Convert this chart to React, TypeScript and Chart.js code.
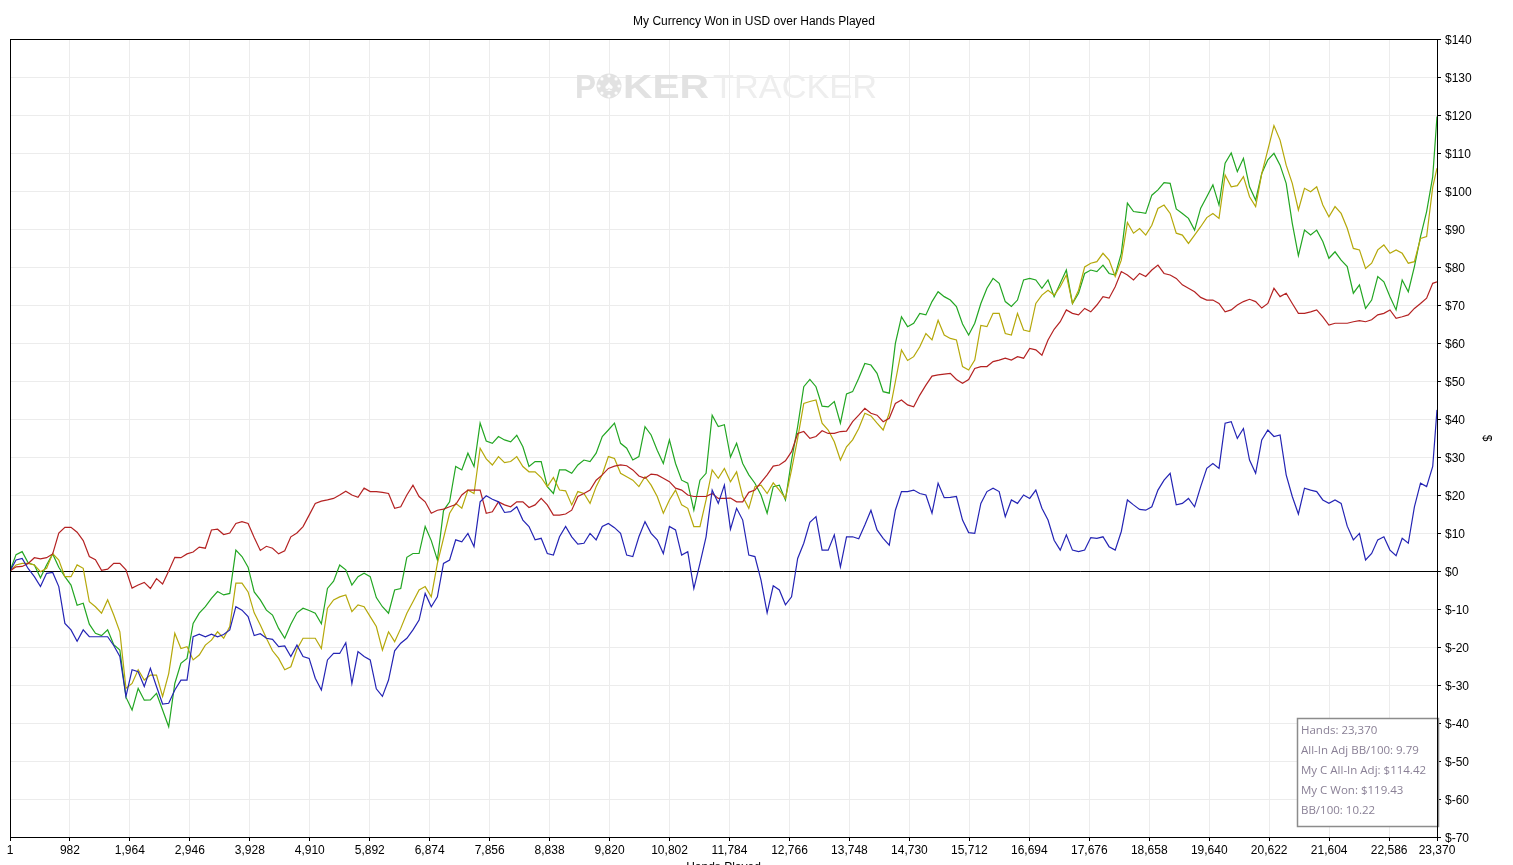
import { useEffect, useRef } from 'react';
import { Chart, registerables } from 'chart.js';

Chart.register(...registerables);

const TITLE = 'My Currency Won in USD over Hands Played';
const X_TITLE = 'Hands Played';
const Y_TITLE = '$';

const HANDS = [
  1, 100, 200, 300, 400, 500, 600, 700, 800, 900,
  1000, 1100, 1200, 1300, 1400, 1500, 1600, 1700, 1800, 1900,
  2000, 2100, 2200, 2300, 2400, 2500, 2600, 2700, 2800, 2900,
  3000, 3100, 3200, 3300, 3400, 3500, 3600, 3700, 3800, 3900,
  4000, 4100, 4200, 4300, 4400, 4500, 4600, 4700, 4800, 4900,
  5000, 5100, 5200, 5300, 5400, 5500, 5600, 5700, 5800, 5900,
  6000, 6100, 6200, 6300, 6400, 6500, 6600, 6700, 6800, 6900,
  7000, 7100, 7200, 7300, 7400, 7500, 7600, 7700, 7800, 7900,
  8000, 8100, 8200, 8300, 8400, 8500, 8600, 8700, 8800, 8900,
  9000, 9100, 9200, 9300, 9400, 9500, 9600, 9700, 9800, 9900,
  10000, 10100, 10200, 10300, 10400, 10500, 10600, 10700, 10800, 10900,
  11000, 11100, 11200, 11300, 11400, 11500, 11600, 11700, 11800, 11900,
  12000, 12100, 12200, 12300, 12400, 12500, 12600, 12700, 12800, 12900,
  13000, 13100, 13200, 13300, 13400, 13500, 13600, 13700, 13800, 13900,
  14000, 14100, 14200, 14300, 14400, 14500, 14600, 14700, 14800, 14900,
  15000, 15100, 15200, 15300, 15400, 15500, 15600, 15700, 15800, 15900,
  16000, 16100, 16200, 16300, 16400, 16500, 16600, 16700, 16800, 16900,
  17000, 17100, 17200, 17300, 17400, 17500, 17600, 17700, 17800, 17900,
  18000, 18100, 18200, 18300, 18400, 18500, 18600, 18700, 18800, 18900,
  19000, 19100, 19200, 19300, 19400, 19500, 19600, 19700, 19800, 19900,
  20000, 20100, 20200, 20300, 20400, 20500, 20600, 20700, 20800, 20900,
  21000, 21100, 21200, 21300, 21400, 21500, 21600, 21700, 21800, 21900,
  22000, 22100, 22200, 22300, 22400, 22500, 22600, 22700, 22800, 22900,
  23000, 23100, 23200, 23300, 23370,
];

// Net won (green)
const WON = [
  0, 4.3, 5.1, 2.1, 1.6, -1.8, 1.6, 4.5, 1, -1.5,
  -3.7, -9, -8.5, -14, -16.4, -17, -15.5, -19.4, -20.8, -33.2,
  -36.6, -30.9, -34, -33.9, -32.2, -36.6, -41, -29.6, -24.3, -23,
  -13.8, -11.1, -9.4, -7.2, -5.4, -6.3, -5.9, 5.5, 3.8, 1,
  -5.5, -7.6, -10.3, -11.6, -15.1, -17.7, -14, -11, -9.8, -10.4,
  -11.1, -13.9, -4.6, -2.7, 1.6, 0.3, -3.7, -1.5, -0.6, -1.5,
  -7, -9.4, -11.1, -5, -4.6, 3.6, 4.6, 4.6, 11.7, 8,
  2.9, 15.9, 18.2, 27.5, 26.6, 31, 27.5, 38.9, 34.2, 33.6,
  35.4, 34.5, 34, 35.7, 32.7, 27.5, 28.8, 28.8, 22.2, 20.4,
  26.6, 26.6, 25.7, 27.9, 29.2, 28.8, 31, 35.4, 37.1, 38.9,
  33.6, 32.3, 29.2, 30.1, 38, 35.8, 31.8, 28.3, 34.5, 28.3,
  23.9, 23.1, 16, 23.9, 25.7, 41, 38, 38.5, 30, 33.6,
  28.3, 25.3, 23.1, 20, 15.2, 22.2, 22.6, 18.7, 29.2, 38,
  48.5, 50.4, 48.5, 43.4, 43.2, 44.6, 38.9, 46.6, 47.2, 50.7,
  54.6, 54.2, 52, 47.2, 46.8, 59.9, 66.9, 64.3, 65.2, 67.8,
  67.4, 70.9, 73.5, 72.2, 71.3, 69.6, 65, 62.1, 65.2, 70.4,
  74.4, 77, 75.7, 70.9, 69.6, 71.3, 76.6, 77, 76.6, 74.4,
  76.6, 72.2, 75.7, 79.2, 70.4, 73.1, 78.3, 79.2, 78.8, 80.5,
  78.3, 77.9, 83.6, 96.8, 94.6, 94.4, 94.1, 98.9, 100.3, 102.2,
  102, 95.3, 94.1, 92.8, 89.7, 95.5, 98.5, 101.6, 96.3, 107.3,
  110, 105.1, 108.6, 101.1, 97.6, 104.6, 108.2, 109.9, 106.8, 102,
  91.5, 83, 89.7, 88.4, 89.7, 86.7, 82.3, 84, 81.8, 80.1,
  73.1, 75.3, 69.1, 71.3, 77.5, 76.1, 72.2, 68.7, 76.6, 73.5,
  80.1, 88, 94.6, 103.8, 119.6,
];

// All-in adjusted (olive)
const ALLIN_ADJ = [
  0, 1.6, 2, 2, 1.6, -0.2, 0.7, 4.6, 2.9, -1.5,
  -1.5, 1.6, 0.7, -8.1, -9.4, -11.1, -7.6, -11.6, -16, -30.9,
  -29.6, -26, -28.7, -27.4, -27.4, -33, -27, -16.4, -20.4, -19.9,
  -23.4, -22.1, -19.5, -18.2, -16, -17.7, -14.6, -3.2, -3.2, -5.5,
  -11, -14.2, -17.7, -21, -23, -26, -25.2, -20.6, -17.7, -17.7,
  -17.7, -20.4, -9.8, -7.6, -6.8, -6.3, -10.7, -8.9, -9.4, -12,
  -14.6, -20.8, -16, -18.6, -15.1, -11.1, -8.1, -5, -4.1, -6.8,
  2, 8.6, 15.2, 17.8, 16.5, 21.3, 20.4, 32.3, 29.5, 27.9,
  30.1, 28.5, 28.8, 30.1, 27.5, 26.1, 26.1, 24.6, 22.2, 24.6,
  21.3, 21.1, 17.4, 20.9, 20.4, 17.8, 22.2, 25.4, 30.1, 29.6,
  25.7, 24.8, 23.9, 22.2, 24.8, 22.6, 19.6, 15.2, 18.7, 21.3,
  17.4, 16.5, 11.7, 11.7, 18.7, 26.6, 24.4, 27, 23.5, 26.1,
  19.6, 16.5, 22.2, 22.6, 20.4, 23.2, 21.3, 19.1, 26.6, 34.9,
  44.1, 44.6, 45, 38.9, 37.1, 34, 29.2, 32.7, 34.5, 37.5,
  41.5, 40.8, 38.9, 37.1, 41.5, 49.8, 58.2, 55.4, 56.4, 59,
  62.5, 60.8, 66, 62.1, 61.2, 60.8, 53.8, 52.9, 55.5, 64.6,
  64.3, 67.8, 67.8, 62.5, 62.1, 67.8, 63.4, 63, 70.4, 72.6,
  73.9, 72.6, 74.8, 77.9, 70.4, 73.9, 80, 81, 81.4, 83.6,
  81.8, 77.5, 81.8, 91.7, 88.9, 90.1, 88.4, 91, 95.4, 96.3,
  94.1, 88.9, 88.4, 86.2, 88.4, 90.6, 93, 94.1, 92.8, 104.2,
  101.1, 101.4, 103.8, 98.5, 95.9, 104.6, 110.8, 117.2, 113.4, 106.8,
  102, 95, 100.7, 99.8, 101.1, 96.3, 93.2, 95.9, 94.1, 90.2,
  84.9, 84.5, 79.6, 81, 84.5, 85.8, 83.6, 84.5, 83.6, 81,
  81.4, 87.5, 88, 101, 106,
];

// Non-showdown winnings (red)
const NON_SHOWDOWN = [
  0, 1.1, 1.2, 2, 3.5, 3.2, 3.5, 4.5, 10, 11.5,
  11.5, 10.2, 8, 3.8, 3, 0.2, 0.5, 2, 2, 0.3,
  -4.5, -3.7, -3, -4.6, -2, -3.4, 0, 3.6, 3.5, 4.5,
  5, 6.3, 6, 10.8, 11, 9.6, 10, 12.5, 13, 12.5,
  8.8, 5.4, 6.5, 6, 4.5, 5.3, 9, 10, 11.7, 14.7,
  17.8, 18.4, 18.7, 19.1, 20, 21, 20, 19.4, 21.8, 20.9,
  20.9, 20.7, 20.4, 16.5, 16.9, 20, 22.6, 19.6, 18.2, 15.2,
  16, 16.3, 16.9, 17.5, 20, 21.3, 21.3, 21.3, 15.2, 15.6,
  18.2, 17.4, 16.9, 18.2, 18.2, 16.7, 17.4, 19.1, 17.4, 14.7,
  14.7, 15, 16, 19.6, 20.4, 21.3, 23.9, 25.3, 27, 27.6,
  27.9, 27.7, 26.6, 25, 24.4, 25.5, 25.3, 24.4, 23.5, 21.8,
  21.3, 20, 19.6, 19.6, 19.6, 20.4, 19.1, 19.1, 19.2, 18.2,
  18.2, 20.7, 21.3, 23.3, 25.3, 27.6, 27.9, 29, 31.4, 36.2,
  36.7, 34.9, 35.4, 36.9, 36.2, 36.2, 36.7, 36.8, 39.3, 41,
  42.8, 41.5, 41, 39.3, 40.2, 44.1, 45, 43.7, 43.2, 46.3,
  48.9, 51.3, 51.6, 51.8, 52, 50.4, 49.4, 50.4, 53.3, 53.8,
  53.8, 55.1, 55.5, 56, 55.5, 56.4, 56, 58.6, 58.2, 56.8,
  60.8, 63.6, 65.6, 68.7, 67.8, 67.4, 69.1, 68.2, 70, 72.2,
  71.8, 74.8, 78.8, 77.9, 76.6, 78.3, 77.5, 79.2, 80.5, 78.3,
  77.9, 77, 75.3, 74.4, 73.5, 72, 71.3, 71.3, 70.4, 68.2,
  68.7, 70, 70.9, 71.5, 70.9, 69.2, 70.4, 74.4, 72.2, 73.1,
  70.4, 67.8, 67.8, 68.2, 68.7, 66.9, 64.7, 65.2, 65.2, 65.2,
  65.6, 65.9, 65.6, 66.1, 67.4, 67.8, 68.7, 66.5, 66.9, 67.4,
  69.1, 70.4, 71.8, 75.7, 76.1,
];

// Showdown winnings (blue)
const SHOWDOWN = [
  0, 2.9, 3.3, 0.6, -1.5, -4.1, -0.6, -0.4, -4.1, -13.8,
  -15.5, -18.5, -15.5, -17.3, -17.3, -17.3, -17.3, -19.6, -22.5, -33,
  -26, -26.5, -30.4, -25.6, -30.4, -35, -34.8, -31.3, -28.7, -28.7,
  -17.3, -16.6, -17.3, -16.6, -17.3, -16.7, -15.5, -9.4, -10.3, -12,
  -17, -16.5, -17.7, -18, -19.9, -19.7, -22.5, -19.5, -22.5, -23,
  -28.2, -31.3, -23.4, -21.7, -21.7, -18.9, -29.6, -21.2, -22.5, -23.4,
  -31, -33, -28.7, -21, -19, -17.7, -15.5, -12.9, -5.9, -9.4,
  -6.8, 2, 2.9, 8.2, 7.7, 9.9, 6.4, 18.2, 19.8, 18.9,
  18.2, 15.4, 15.6, 16.9, 13.4, 11.7, 8.2, 8.6, 4.6, 4.2,
  9, 11.7, 9, 7.1, 7.3, 9.9, 8.2, 11.7, 12.5, 11.4,
  9.9, 4.2, 3.8, 9, 13, 9.9, 8.2, 4.6, 11.7, 10.8,
  4.2, 5.1, -4.6, 2, 9, 21.3, 17.8, 22.6, 11, 16.5,
  13.4, 4.2, 3.8, -2.4, -11, -3.9, -5, -8.9, -6.8, 3.3,
  7.3, 12.8, 14.3, 5.5, 5.5, 9.5, 1.1, 9, 9, 8.5,
  12.1, 16, 10.8, 8.6, 6.8, 16, 20.9, 20.9, 21.3, 20.4,
  20, 15.2, 23.1, 19.3, 19.4, 19.6, 13.4, 10.1, 9.9, 17.8,
  20.9, 21.8, 20.9, 14.3, 18.7, 17.8, 20, 19.1, 21.3, 16.5,
  13.4, 8.1, 5.5, 9.5, 5.5, 5.1, 5.5, 8.8, 8.6, 9,
  6.4, 5.5, 10.4, 18.7, 17.4, 16.2, 16, 16.9, 21.3, 23.9,
  25.7, 17.4, 17.8, 19.1, 16.9, 22.2, 27, 28.3, 27, 38.9,
  39.3, 34.9, 37.5, 29.2, 25.7, 34.5, 37.1, 35.4, 35.8, 25.3,
  19.6, 15, 21.8, 21.3, 20.9, 18.7, 17.8, 18.7, 17.8, 11.8,
  8.2, 9.9, 2.9, 4.6, 8.2, 9, 5.5, 4, 8.6, 7.3,
  16.9, 23.1, 22.2, 27.5, 42.4,
];

const X_TICKS = [
  1, 982, 1964, 2946, 3928, 4910, 5892, 6874, 7856, 8838, 9820, 10802,
  11784, 12766, 13748, 14730, 15712, 16694, 17676, 18658, 19640, 20622,
  21604, 22586, 23370,
];

const Y_MIN = -70;
const Y_MAX = 140;
const Y_STEP = 10;

const STATS = [
  'Hands: 23,370',
  'All-In Adj BB/100: 9.79',
  'My C All-In Adj: $114.42',
  'My C Won: $119.43',
  'BB/100: 10.22',
];

const FONT = '"Liberation Sans", Arial, sans-serif';

const toPoints = (vals: number[]) => HANDS.map((h, i) => ({ x: h, y: vals[i] }));

const decorPlugin = {
  id: 'decor',
  beforeDatasetsDraw(chart: any) {
    const ctx: CanvasRenderingContext2D = chart.ctx;
    ctx.save();
    const base = 98;
    const fit = (text: string, x: number, w: number) => {
      const m = ctx.measureText(text).width;
      ctx.save();
      ctx.translate(x, base);
      ctx.scale(w / m, 1);
      ctx.fillText(text, 0, 0);
      ctx.restore();
    };
    ctx.textBaseline = 'alphabetic';
    ctx.textAlign = 'left';
    ctx.fillStyle = '#e2e2e2';
    ctx.font = `bold 34px ${FONT}`;
    fit('P', 575, 21);
    ctx.beginPath();
    ctx.arc(609, 86, 12.5, 0, Math.PI * 2);
    ctx.fill();
    ctx.fillStyle = '#ffffff';
    for (let k = 0; k < 8; k++) {
      const a = (k * Math.PI) / 4;
      ctx.beginPath();
      ctx.arc(609 + Math.cos(a) * 10, 86 + Math.sin(a) * 10, 1.6, 0, Math.PI * 2);
      ctx.fill();
    }
    ctx.font = `15px ${FONT}`;
    ctx.textAlign = 'center';
    ctx.textBaseline = 'middle';
    ctx.fillText('\u2660', 609, 87);
    ctx.textAlign = 'left';
    ctx.textBaseline = 'alphabetic';
    ctx.fillStyle = '#e2e2e2';
    ctx.font = `bold 34px ${FONT}`;
    fit('KER', 623, 86);
    ctx.fillStyle = '#eeeeee';
    ctx.font = `34px ${FONT}`;
    fit('TRACKER', 713, 164);
    ctx.restore();
  },
  afterDatasetsDraw(chart: any) {
    const ctx: CanvasRenderingContext2D = chart.ctx;
    ctx.save();
    const bx = 1297, by = 718, bw = 142, bh = 109;
    ctx.fillStyle = '#ffffff';
    ctx.fillRect(bx, by, bw, bh);
    ctx.strokeStyle = '#8c8c8c';
    ctx.lineWidth = 1.5;
    ctx.strokeRect(bx + 0.5, by + 0.5, bw - 1, bh - 1);
    ctx.fillStyle = '#8a8096';
    ctx.font = '11.5px "Open Sans", "Noto Sans", sans-serif';
    ctx.textBaseline = 'middle';
    ctx.textAlign = 'left';
    STATS.forEach((s, i) => ctx.fillText(s, bx + 4, by + 13 + i * 20));
    ctx.restore();
  },
  afterDraw(chart: any) {
    const ctx: CanvasRenderingContext2D = chart.ctx;
    const a = chart.chartArea;
    ctx.save();
    ctx.strokeStyle = '#000000';
    ctx.lineWidth = 1;
    const l = Math.round(a.left) + 0.5;
    const t = Math.round(a.top) + 0.5;
    const r = Math.round(a.right) + 0.5;
    const b = Math.round(a.bottom) + 0.5;
    ctx.strokeRect(l, t, r - l, b - t);
    ctx.fillStyle = '#000000';
    ctx.font = `12px ${FONT}`;
    ctx.textAlign = 'center';
    ctx.textBaseline = 'middle';
    ctx.fillText(TITLE, 754, 22);
    ctx.restore();
  },
};

export default function App() {
  const ref = useRef<HTMLCanvasElement>(null);

  useEffect(() => {
    if (!ref.current) return;
    const chart = new Chart(ref.current, {
      type: 'line',
      data: {
        datasets: [
          { label: 'Showdown', data: toPoints(SHOWDOWN), borderColor: '#2424b4' },
          { label: 'Non-showdown', data: toPoints(NON_SHOWDOWN), borderColor: '#b42222' },
          { label: 'All-in adj', data: toPoints(ALLIN_ADJ), borderColor: '#b5a80a' },
          { label: 'Won', data: toPoints(WON), borderColor: '#22a622' },
        ].map((d) => ({
          ...d,
          borderWidth: 1.2,
          pointRadius: 0,
          pointHoverRadius: 0,
          tension: 0,
          fill: false,
        })),
      },
      options: {
        animation: false,
        responsive: true,
        maintainAspectRatio: false,
        layout: { padding: { top: 39, left: 10, right: 0, bottom: 0 } },
        plugins: {
          legend: { display: false },
          tooltip: { enabled: false },
          title: { display: false },
        },
        events: [],
        scales: {
          x: {
            type: 'linear',
            min: X_TICKS[0],
            max: X_TICKS[X_TICKS.length - 1],
            afterBuildTicks: (s: any) => {
              s.ticks = X_TICKS.map((v) => ({ value: v }));
            },
            afterFit: (s: any) => {
              s.height = 28;
            },
            ticks: {
              autoSkip: false,
              maxRotation: 0,
              minRotation: 0,
              padding: 2,
              color: '#000000',
              font: { family: FONT, size: 12 },
              callback: (v: any) => Number(v).toLocaleString('en-US'),
            },
            grid: { color: '#ececec', tickColor: '#000000', tickLength: 4, lineWidth: 1 },
            border: { display: true, color: '#000000' },
            title: {
              display: true,
              text: X_TITLE,
              color: '#000000',
              font: { family: FONT, size: 12 },
              padding: { top: 0, bottom: -10 },
            },
          },
          y: {
            position: 'right',
            min: Y_MIN,
            max: Y_MAX,
            afterFit: (s: any) => {
              s.width = 76;
            },
            ticks: {
              stepSize: Y_STEP,
              padding: 4,
              labelOffset: 1.5,
              color: '#000000',
              font: { family: FONT, size: 12 },
              callback: (v: any) => '$' + v,
            },
            grid: {
              color: (c: any) => (c.tick && c.tick.value === 0 ? '#000000' : '#ececec'),
              tickColor: '#000000',
              tickLength: 4,
              lineWidth: 1,
            },
            border: { display: true, color: '#000000' },
            title: {
              display: true,
              text: Y_TITLE,
              color: '#000000',
              font: { family: FONT, size: 12 },
              padding: { top: 19, bottom: 0 },
            },
          },
        },
      },
      plugins: [decorPlugin],
    } as any);
    return () => chart.destroy();
  }, []);

  return (
    <div style={{ position: 'fixed', left: 0, top: 0, width: 1513, height: 865, background: '#ffffff' }}>
      <canvas ref={ref} />
    </div>
  );
}
